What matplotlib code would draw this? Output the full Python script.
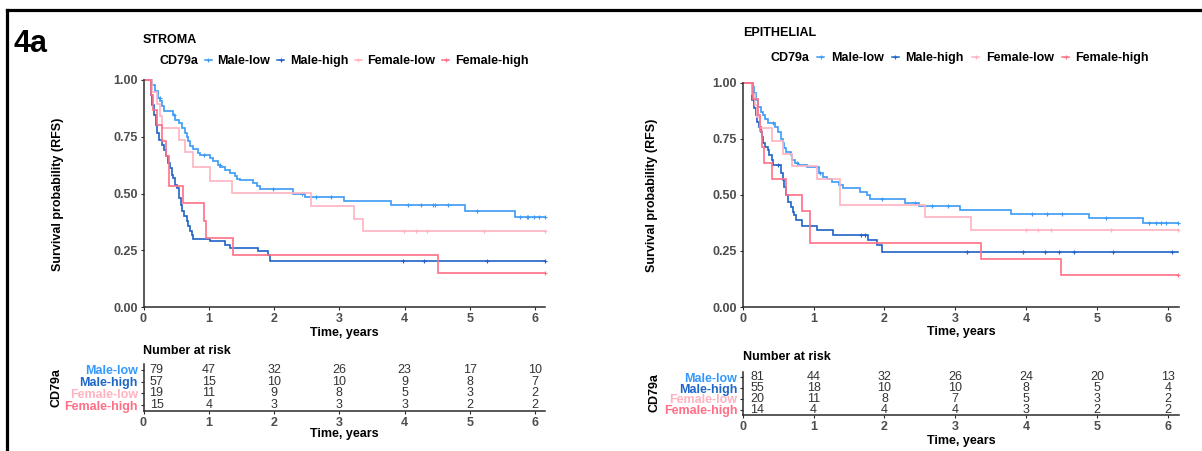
import numpy as np
import matplotlib
matplotlib.use('Agg')
import matplotlib.pyplot as plt
from matplotlib.lines import Line2D

plt.rcParams['font.family'] = ['Liberation Sans', 'DejaVu Sans']

# ---- data: Kaplan-Meier steps (time in years, survival) ----
groups = ['Male-low', 'Male-high', 'Female-low', 'Female-high']
colors = ['#3D9BF5', '#1F63C6', '#FFB3C0', '#FF6F86']

# STROMA
st_ml_t = [0, 0.125, 0.176, 0.227, 0.253, 0.279, 0.314, 0.457, 0.483, 0.549, 0.585, 0.636, 0.662, 0.687, 0.713,
           0.764, 0.840, 0.866, 1.019, 1.070, 1.147, 1.172, 1.249, 1.326, 1.402, 1.428, 1.479, 1.683, 1.734, 1.785,
           2.29, 2.48, 3.07, 3.79, 4.92, 5.69, 6.15]
st_ml_s = [1.0, 0.979, 0.950, 0.921, 0.906, 0.884, 0.862, 0.848, 0.825, 0.811, 0.789, 0.767, 0.748, 0.730, 0.708,
           0.698, 0.679, 0.669, 0.657, 0.642, 0.625, 0.616, 0.605, 0.591, 0.576, 0.566, 0.561, 0.547, 0.532, 0.520,
           0.498, 0.487, 0.468, 0.449, 0.422, 0.396, 0.396]
st_ml_cens = [0.25, 0.46, 0.93, 1.17, 1.98, 2.43, 2.64, 2.87, 4.05, 4.25, 4.43, 4.46, 4.67, 5.11, 5.77, 5.87,
              5.90, 5.98, 6.06, 6.15]

st_mh_t = [0, 0.110, 0.130, 0.161, 0.192, 0.212, 0.243, 0.279, 0.314, 0.345, 0.381, 0.406, 0.432, 0.457, 0.483,
           0.518, 0.549, 0.570, 0.595, 0.621, 0.662, 0.687, 0.713, 0.738, 0.764, 1.019, 1.249, 1.326, 1.760, 1.913,
           1.939, 6.15]
st_mh_s = [1.0, 0.935, 0.891, 0.847, 0.803, 0.767, 0.737, 0.715, 0.693, 0.664, 0.635, 0.613, 0.583, 0.569, 0.539,
           0.525, 0.481, 0.451, 0.422, 0.400, 0.378, 0.356, 0.334, 0.319, 0.302, 0.290, 0.275, 0.261, 0.246, 0.232,
           0.202, 0.202]
st_mh_cens = [3.98, 4.30, 5.26, 6.15]

st_fl_t = [0, 0.125, 0.20, 0.25, 0.28, 0.55, 0.64, 0.76, 1.02, 1.35, 2.57, 3.23, 3.37, 6.15]
st_fl_s = [1.0, 0.947, 0.895, 0.842, 0.789, 0.737, 0.684, 0.616, 0.557, 0.503, 0.446, 0.388, 0.334, 0.334]
st_fl_cens = [3.99, 4.17, 4.35, 5.22, 6.15]

st_fh_t = [0, 0.115, 0.14, 0.20, 0.28, 0.345, 0.39, 0.61, 0.927, 0.952, 1.37, 4.52, 6.15]
st_fh_s = [1.0, 0.933, 0.867, 0.800, 0.733, 0.667, 0.533, 0.457, 0.381, 0.305, 0.229, 0.152, 0.152]
st_fh_cens = [6.15]

# EPITHELIAL
ep_ml_t = [0, 0.139, 0.158, 0.186, 0.219, 0.252, 0.28, 0.313, 0.36, 0.455, 0.502, 0.535, 0.563, 0.582, 0.61,
           0.676, 0.69, 0.737, 0.784, 0.902, 1.08, 1.137, 1.193, 1.255, 1.363, 1.42, 1.654, 1.749, 1.796, 2.29,
           2.49, 3.06, 3.78, 4.89, 5.65, 6.15]
ep_ml_s = [1.0, 0.984, 0.954, 0.924, 0.894, 0.872, 0.857, 0.838, 0.823, 0.805, 0.783, 0.749, 0.731, 0.708, 0.693,
           0.679, 0.656, 0.641, 0.634, 0.626, 0.597, 0.582, 0.570, 0.560, 0.545, 0.530, 0.515, 0.500, 0.482, 0.466,
           0.452, 0.433, 0.417, 0.396, 0.376, 0.376]
ep_ml_cens = [0.43, 0.76, 1.09, 1.97, 2.43, 2.67, 2.9, 4.09, 4.29, 4.5, 5.13, 5.74, 5.84, 5.9, 5.97, 6.15]

ep_mh_t = [0, 0.125, 0.158, 0.186, 0.205, 0.233, 0.252, 0.271, 0.29, 0.313, 0.36, 0.375, 0.408, 0.431, 0.535,
           0.563, 0.582, 0.61, 0.643, 0.676, 0.704, 0.723, 0.751, 0.831, 1.043, 1.28, 1.772, 1.89, 1.96, 6.15]
ep_mh_s = [1.0, 0.924, 0.887, 0.857, 0.827, 0.805, 0.783, 0.760, 0.731, 0.716, 0.701, 0.679, 0.656, 0.634, 0.597,
           0.567, 0.537, 0.500, 0.470, 0.448, 0.426, 0.411, 0.388, 0.363, 0.344, 0.321, 0.299, 0.277, 0.247, 0.247]
ep_mh_cens = [0.5, 1.67, 1.73, 3.17, 3.95, 4.27, 4.46, 4.68, 5.22, 6.06]

ep_fl_t = [0, 0.125, 0.17, 0.20, 0.24, 0.41, 0.57, 0.70, 1.05, 1.37, 2.57, 3.22, 6.15]
ep_fl_s = [1.0, 0.95, 0.90, 0.85, 0.80, 0.74, 0.685, 0.63, 0.57, 0.455, 0.40, 0.342, 0.342]
ep_fl_cens = [4.0, 4.17, 4.35, 5.2, 6.15]

ep_fh_t = [0, 0.15, 0.21, 0.24, 0.27, 0.30, 0.41, 0.61, 0.83, 0.95, 3.36, 4.49, 6.15]
ep_fh_s = [1.0, 0.929, 0.857, 0.786, 0.714, 0.643, 0.571, 0.5, 0.429, 0.286, 0.214, 0.143, 0.143]
ep_fh_cens = [6.15]

# number at risk
risk_times = [0, 1, 2, 3, 4, 5, 6]
st_risk_ml = [79, 47, 32, 26, 23, 17, 10]
st_risk_mh = [57, 15, 10, 10, 9, 8, 7]
st_risk_fl = [19, 11, 9, 8, 5, 3, 2]
st_risk_fh = [15, 4, 3, 3, 3, 2, 2]
ep_risk_ml = [81, 44, 32, 26, 24, 20, 13]
ep_risk_mh = [55, 18, 10, 10, 8, 5, 4]
ep_risk_fl = [20, 11, 8, 7, 5, 3, 2]
ep_risk_fh = [14, 4, 4, 4, 3, 2, 2]

# ---- layout helpers (pixel -> figure fraction) ----
W, H = 1202, 451
fig = plt.figure(figsize=(W / 100, H / 100), dpi=100)


def fx(px):
    return px / W


def fy(py):
    return 1 - py / H


def rect(x0, y0, x1, y1):
    return [x0 / W, 1 - y1 / H, (x1 - x0) / W, (y1 - y0) / H]


AX_COL = '#2b2b2b'
TICK_COL = '#4D4D4D'
XMAX = 6.16


def style_axis(ax):
    for s in ['top', 'right']:
        ax.spines[s].set_visible(False)
    for s in ['left', 'bottom']:
        ax.spines[s].set_linewidth(1.1)
        ax.spines[s].set_color(AX_COL)
    ax.tick_params(direction='out', length=2.5, width=0.8, color=AX_COL, pad=1.5,
                   labelsize=9, labelcolor=TICK_COL)
    for lab in ax.get_xticklabels() + ax.get_yticklabels():
        lab.set_fontweight('bold')


def km_panel(ax, curves):
    for (t, s, cens), c in zip(curves, colors):
        t = np.asarray(t)
        s = np.asarray(s)
        ax.step(t, s, where='post', color=c, lw=1.2, clip_on=False, solid_joinstyle='miter')
        cy = s[np.searchsorted(t, cens, side='right') - 1]
        ax.plot(cens, cy, ls='none', marker='+', ms=3.5, mew=0.8, color=c, clip_on=False)
    ax.set_xlim(0, XMAX)
    ax.set_ylim(0, 1)
    ax.set_xticks(range(7))
    ax.set_yticks([0, 0.25, 0.5, 0.75, 1.0])
    ax.set_yticklabels(['0.00', '0.25', '0.50', '0.75', '1.00'])
    style_axis(ax)


def risk_panel(ax, rows):
    for yi, (vals, name) in enumerate(zip(rows, groups)):
        y = 4 - yi
        for t, v in zip(risk_times, vals):
            xt = t + 0.2 if t == 0 else t
            ax.text(xt, y, str(v), ha='center', va='center', fontsize=9, color='#333333')
    ax.set_xlim(0, XMAX)
    ax.set_ylim(0.5, 4.5)
    ax.set_xticks(range(7))
    ax.set_yticks([4, 3, 2, 1])
    ax.set_yticklabels(groups)
    style_axis(ax)
    for lab, c in zip(ax.get_yticklabels(), ['#3399FF', '#1E66C8', '#FFB3C0', '#FF6F86']):
        lab.set_color(c)


def legend_row(handle_x, y, cd_right, hl, pad, colsp):
    handles = [Line2D([], [], color=c, lw=1.1, marker='+', ms=3.5, mew=0.8) for c in colors]
    fig.legend(handles, groups, loc='center left', bbox_to_anchor=(fx(handle_x), fy(y)), ncol=4,
               frameon=False, handlelength=hl, handletextpad=pad, columnspacing=colsp,
               borderpad=0, borderaxespad=0, prop={'size': 9, 'weight': 'bold'})
    fig.text(fx(cd_right), fy(y), 'CD79a', ha='right', va='center', fontsize=9, fontweight='bold')


# ---- left panel: STROMA ----
ax1 = fig.add_axes(rect(143.5, 80, 143.5 + XMAX * 65.25, 307.3))
km_panel(ax1, [(st_ml_t, st_ml_s, st_ml_cens), (st_mh_t, st_mh_s, st_mh_cens),
               (st_fl_t, st_fl_s, st_fl_cens), (st_fh_t, st_fh_s, st_fh_cens)])
rk1 = fig.add_axes(rect(143.5, 364, 143.5 + XMAX * 65.25, 411))
risk_panel(rk1, [st_risk_ml, st_risk_mh, st_risk_fl, st_risk_fh])

fig.text(fx(14), fy(44), '4a', fontsize=22, fontweight='bold', ha='left', va='center')
fig.text(fx(143), fy(40), 'STROMA', fontsize=9, fontweight='bold', ha='left', va='center')
legend_row(205, 61, 198, 0.55, 0.45, 0.55)
fig.text(fx(58), fy(194), 'Survival probability (RFS)', rotation=90, ha='center', va='center',
         fontsize=9, fontweight='bold')
fig.text(fx(344.5), fy(333), 'Time, years', ha='center', va='center', fontsize=9, fontweight='bold')
fig.text(fx(143), fy(351), 'Number at risk', ha='left', va='center', fontsize=9, fontweight='bold')
fig.text(fx(57), fy(388), 'CD79a', rotation=90, ha='center', va='center', fontsize=9, fontweight='bold')
fig.text(fx(344.5), fy(434), 'Time, years', ha='center', va='center', fontsize=9, fontweight='bold')

# ---- right panel: EPITHELIAL ----
ax2 = fig.add_axes(rect(742.8, 83, 742.8 + XMAX * 70.83, 307))
km_panel(ax2, [(ep_ml_t, ep_ml_s, ep_ml_cens), (ep_mh_t, ep_mh_s, ep_mh_cens),
               (ep_fl_t, ep_fl_s, ep_fl_cens), (ep_fh_t, ep_fh_s, ep_fh_cens)])
rk2 = fig.add_axes(rect(742.8, 372, 742.8 + XMAX * 70.83, 415))
risk_panel(rk2, [ep_risk_ml, ep_risk_mh, ep_risk_fl, ep_risk_fh])

fig.text(fx(743), fy(33), 'EPITHELIAL', fontsize=9, fontweight='bold', ha='left', va='center')
legend_row(817, 58, 809, 0.6, 0.5, 0.65)
fig.text(fx(652), fy(195), 'Survival probability (RFS)', rotation=90, ha='center', va='center',
         fontsize=9, fontweight='bold')
fig.text(fx(961), fy(332), 'Time, years', ha='center', va='center', fontsize=9, fontweight='bold')
fig.text(fx(743), fy(357), 'Number at risk', ha='left', va='center', fontsize=9, fontweight='bold')
fig.text(fx(654), fy(393), 'CD79a', rotation=90, ha='center', va='center', fontsize=9, fontweight='bold')
fig.text(fx(961), fy(441), 'Time, years', ha='center', va='center', fontsize=9, fontweight='bold')

# panel frame (top and left edges)
fig.add_artist(Line2D([fx(6.5), fx(6.5)], [fy(460), fy(9.5)], color='black', lw=2.3))
fig.add_artist(Line2D([fx(6.5), fx(1210)], [fy(9.5), fy(9.5)], color='black', lw=2.3))

fig.savefig('out.png', dpi=100, facecolor='white')
